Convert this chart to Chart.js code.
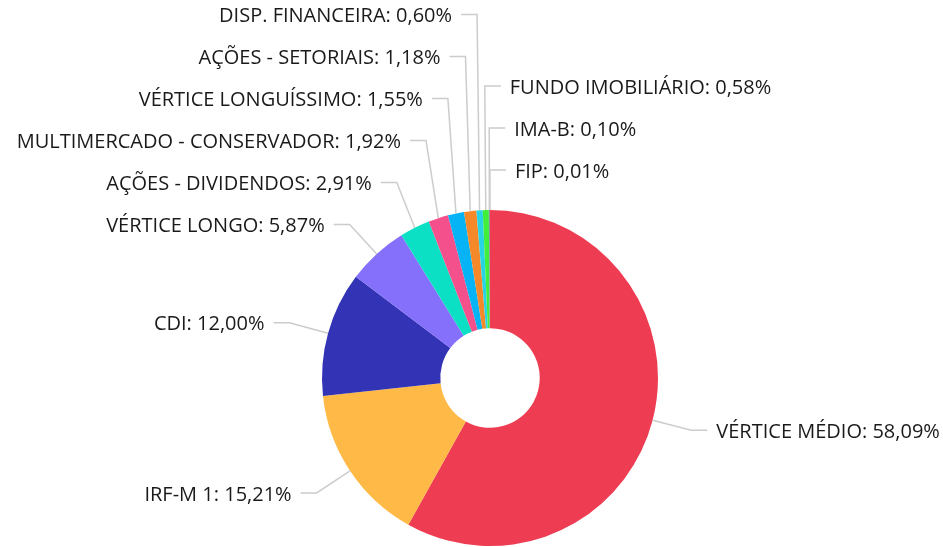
<!DOCTYPE html>
<html>
<head>
<meta charset="utf-8">
<script src="https://cdn.jsdelivr.net/npm/chart.js@4.4.1/dist/chart.umd.min.js"></script>
<style>
  html, body { margin: 0; padding: 0; background: #fff; }
  #wrap { width: 943px; height: 547px; }
</style>
</head>
<body>
<div id="wrap"><canvas id="carteira"></canvas></div>
<script>
const labels = [
  "VÉRTICE MÉDIO", "IRF-M 1", "CDI", "VÉRTICE LONGO", "AÇÕES - DIVIDENDOS",
  "MULTIMERCADO - CONSERVADOR", "VÉRTICE LONGUÍSSIMO", "AÇÕES - SETORIAIS",
  "DISP. FINANCEIRA", "FUNDO IMOBILIÁRIO", "IMA-B", "FIP"
]
const percents = [58.09, 15.21, 12.00, 5.87, 2.91, 1.92, 1.55, 1.18, 0.60, 0.58, 0.10, 0.01]
const colors = [
  "#ee3d52", "#ffb946", "#3333b5", "#8470fb", "#0ce0c4", "#f4508c",
  "#06b3f5", "#f5892a", "#28d4e4", "#40ee3c", "#8a8aa0", "#6c6c80"
]

const fontSpec = '20px "Open Sans"'
const labelGap = 42

// draws the outside labels with the grey leader lines
const outsideLabels = {
  id: "outsideLabels",
  afterDraw(chart) {
    const ctx = chart.ctx
    const arcs = chart.getDatasetMeta(0).data
    if (!arcs.length) return
    const cx = arcs[0].x
    const cy = arcs[0].y
    const r = arcs[0].outerRadius
    const elbowR = r + 40

    let items = arcs.map((arc, i) => {
      const mid = (arc.startAngle + arc.endAngle) / 2
      const ex = cx + Math.cos(mid) * r
      const ey = cy + Math.sin(mid) * r
      const bx = cx + Math.cos(mid) * elbowR
      const by = cy + Math.sin(mid) * elbowR
      return { i, mid, ex, ey, bx, by, y: by, left: bx < cx - 8 }
    })

    // left side: from bottom going up clockwise, push upward when too close
    const left = items.filter(it => it.left).sort((a, b) => a.mid - b.mid)
    // right side: from bottom going up anticlockwise
    const right = items.filter(it => !it.left).sort((a, b) => {
      const na = a.mid > Math.PI / 2 ? a.mid - 2 * Math.PI : a.mid
      const nb = b.mid > Math.PI / 2 ? b.mid - 2 * Math.PI : b.mid
      return nb - na
    })
    for (const side of [left, right]) {
      for (let k = 1; k < side.length; k++) {
        const limit = side[k - 1].y - labelGap
        if (side[k].y > limit) side[k].y = limit
      }
    }

    ctx.save()
    ctx.font = fontSpec
    ctx.textBaseline = "middle"
    ctx.lineWidth = 1.5
    ctx.strokeStyle = "#cccccc"
    ctx.fillStyle = "#1a1a1a"
    for (const it of items) {
      const dir = it.left ? -1 : 1
      const hx = it.bx + dir * 16
      ctx.beginPath()
      ctx.moveTo(it.ex, it.ey)
      ctx.lineTo(it.bx, it.y)
      ctx.lineTo(hx, it.y)
      ctx.stroke()
      const txt = labels[it.i] + ": " + percents[it.i].toFixed(2).replace(".", ",") + "%"
      ctx.textAlign = it.left ? "right" : "left"
      ctx.fillText(txt, hx + dir * 9, it.y + 2)
    }
    ctx.restore()
  }
}

new Chart(document.getElementById("carteira"), {
  type: "doughnut",
  data: {
    labels: labels,
    datasets: [{
      data: percents,
      backgroundColor: colors,
      borderWidth: 0
    }]
  },
  options: {
    responsive: true,
    maintainAspectRatio: false,
    animation: false,
    cutout: "29.6%",
    layout: {
      padding: { left: 322, right: 285, top: 210, bottom: 1 }
    },
    plugins: {
      legend: { display: false },
      tooltip: { enabled: false }
    }
  },
  plugins: [outsideLabels]
})
</script>
</body>
</html>
